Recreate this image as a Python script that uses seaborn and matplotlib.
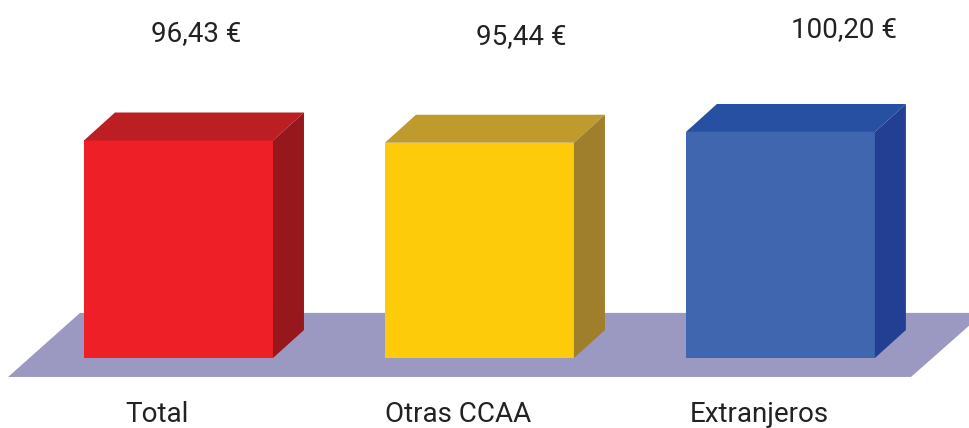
import matplotlib
matplotlib.use('Agg')
import matplotlib.pyplot as plt
from matplotlib.patches import Polygon
import pandas as pd
import seaborn as sns

# Datos
categorias = ['Total', 'Otras CCAA', 'Extranjeros']
valores = [96.43, 95.44, 100.20]
etiquetas = ['96,43 €', '95,44 €', '100,20 €']

# Colores de cada cara
frente = ['#ef1f27', '#fecb0a', '#4066b0']
arriba = ['#bb1e23', '#bf9a2d', '#2750a3']
lado = ['#97181c', '#9f7e2c', '#233f93']
color_suelo = '#9b98c1'

# Profundidad del efecto 3D (unidades de datos)
prof_x = 0.103
prof_y = 12.4

df = pd.DataFrame({'categoria': categorias, 'valor': valores})

sns.set_theme(style='white')
plt.rcParams['font.family'] = ['Roboto', 'DejaVu Sans']

fig = plt.figure(figsize=(9.7, 4.28), dpi=100)
ax = fig.add_axes([0, 0, 1, 1])

sns.barplot(data=df, x='categoria', y='valor', hue='categoria', palette=frente,
            width=0.628, saturation=1, legend=False, ax=ax, zorder=3,
            edgecolor='none', linewidth=0)

ax.set_xlim(-0.593, 2.63)
ax.set_ylim(-31.03, 158.7)
ax.axis('off')

# Suelo (la esquina derecha queda fuera de la imagen)
suelo = [(-0.566, -8.4), (-0.327, 20), (2.675, 20), (2.434, -8.4)]
ax.add_patch(Polygon(suelo, closed=True, color=color_suelo, lw=0, zorder=1))

# Caras superior y lateral a partir de cada barra
for i, bar in enumerate(ax.patches[:3]):
    x0 = bar.get_x()
    x1 = x0 + bar.get_width()
    h = bar.get_height()
    ax.add_patch(Polygon([(x0, h), (x1, h), (x1 + prof_x, h + prof_y), (x0 + prof_x, h + prof_y)],
                         closed=True, color=arriba[i], lw=0, zorder=3))
    ax.add_patch(Polygon([(x1, 0), (x1 + prof_x, prof_y), (x1 + prof_x, h + prof_y), (x1, h)],
                         closed=True, color=lado[i], lw=0, zorder=3))

# Textos (los valores van a mano, como en el original)
pos_valor = [(0.058, 143.8), (1.14, 142.7), (2.21, 145.8)]
for (x, y), txt in zip(pos_valor, etiquetas):
    ax.text(x, y, txt, ha='center', va='center', fontsize=20, color='#222222')
pos_cat = [-0.07, 0.93, 1.93]
for x, txt in zip(pos_cat, categorias):
    ax.text(x, -24.9, txt, ha='center', va='center', fontsize=20, color='#222222')

fig.savefig('out.png', dpi=100)
